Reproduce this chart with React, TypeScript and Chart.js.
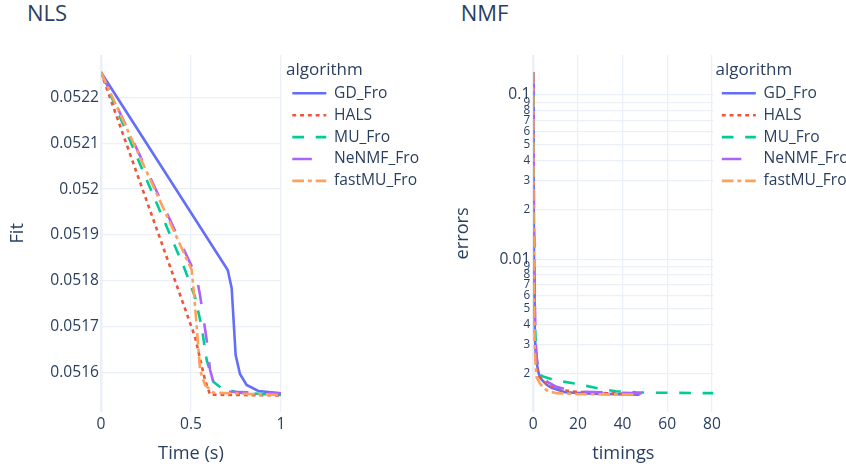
import React, { useEffect, useRef } from "react";
import { Chart, registerables } from "chart.js";

Chart.register(...registerables);

// ---------- series meta ----------
const algorithms = ["GD_Fro", "HALS", "MU_Fro", "NeNMF_Fro", "fastMU_Fro"];
const colors = ["#636efa", "#EF553B", "#00cc96", "#ab63fa", "#FFA15A"];
const dashes: number[][] = [[], [3.9, 3.9], [11.7, 11.7], [19.5, 19.5], [11.7, 3.9, 3.9, 3.9]];

// ---------- NLS (Time (s) vs Fit) ----------
const nlsTimeGD = [0, 0.704, 0.726, 0.748, 0.772, 0.809, 0.874, 1.0];
const nlsFitGD = [0.0522545, 0.0518237, 0.0517839, 0.0516386, 0.0515972, 0.0515732, 0.0515601, 0.0515551];
const nlsTimeHALS = [0, 0.522, 0.578, 0.606, 1.0];
const nlsFitHALS = [0.0522545, 0.0516784, 0.0515841, 0.051552, 0.0515505];
const nlsTimeMU = [0, 0.467, 0.522, 0.559, 0.587, 0.624, 0.671, 0.763, 1.0];
const nlsFitMU = [0.0522545, 0.0518237, 0.0517656, 0.0517002, 0.0516277, 0.0515804, 0.051566, 0.0515564, 0.0515514];
const nlsTimeNeNMF = [0, 0.531, 0.55, 0.568, 0.587, 0.606, 0.624, 0.698, 1.0];
const nlsFitNeNMF = [0.0522545, 0.0518092, 0.0517693, 0.051722, 0.0516712, 0.0516059, 0.0515804, 0.0515586, 0.0515551];
const nlsTimeFastMU = [0, 0.504, 0.518, 0.532, 0.55, 0.578, 0.624, 1.0];
const nlsFitFastMU = [0.0522545, 0.0518237, 0.0517656, 0.0517002, 0.0516059, 0.0515732, 0.0515564, 0.0515514];

const nlsXTicks = [0, 0.5, 1];
const nlsYTicks = [0.0516, 0.0517, 0.0518, 0.0519, 0.052, 0.0521, 0.0522];

// ---------- NMF (timings vs errors, log) ----------
const nmfTimeGD = [0, 0.15, 0.35, 0.6, 1.0, 1.6, 2.5, 3.75, 6, 8.2, 14.2, 26, 47.6];
const nmfErrGD = [0.138, 0.03, 0.008, 0.004, 0.0028, 0.0023, 0.002, 0.00185, 0.00172, 0.00165, 0.00155, 0.00152, 0.0015];
const nmfTimeHALS = [0, 0.12, 0.3, 0.55, 0.9, 1.5, 2.5, 4, 8, 14.2, 17.1, 25, 46];
const nmfErrHALS = [0.138, 0.025, 0.008, 0.0038, 0.0027, 0.0022, 0.00195, 0.00182, 0.00168, 0.00159, 0.00157, 0.00154, 0.00151];
const nmfTimeMU = [0, 0.15, 0.4, 0.7, 1.1, 1.6, 2.2, 4, 10, 18.6, 27.8, 37, 46, 55, 80.7];
const nmfErrMU = [0.138, 0.035, 0.009, 0.0042, 0.0029, 0.0023, 0.00207, 0.00194, 0.00183, 0.00175, 0.00165, 0.00157, 0.00155, 0.00154, 0.00153];
const nmfTimeNeNMF = [0, 0.2, 0.45, 0.8, 1.1, 1.6, 2.5, 4, 6.7, 10, 15, 22, 35, 55.2];
const nmfErrNeNMF = [0.138, 0.035, 0.01, 0.0045, 0.0031, 0.0025, 0.00207, 0.0019, 0.00178, 0.00168, 0.00161, 0.00156, 0.00154, 0.00152];
const nmfTimeFastMU = [0, 0.1, 0.3, 0.6, 1.0, 1.5, 3, 4.5, 6.7, 10.4, 20, 45.4];
const nmfErrFastMU = [0.138, 0.02, 0.006, 0.003, 0.0023, 0.0019, 0.00175, 0.00165, 0.00157, 0.00153, 0.00151, 0.0015];

const nmfXTicks = [0, 20, 40, 60, 80];
const nmfYTicks = [
  0.1, 0.09, 0.08, 0.07, 0.06, 0.05, 0.04, 0.03, 0.02,
  0.01, 0.009, 0.008, 0.007, 0.006, 0.005, 0.004, 0.003, 0.002,
];

// ---------- styling ----------
const FONT = "'Open Sans', 'Noto Sans', sans-serif";
const TXT = "#2a3f5f";
const GRID = "#EBF0F8";
const LINE_W = 2.6;

const zip = (xs: number[], ys: number[]) => xs.map((x, i) => ({ x, y: ys[i] }));

function makeDatasets(series: [number[], number[]][]) {
  return series.map(([xs, ys], i) => ({
    label: algorithms[i],
    data: zip(xs, ys),
    borderColor: colors[i],
    backgroundColor: colors[i],
    borderWidth: LINE_W,
    borderDash: dashes[i],
    pointRadius: 0,
    pointHoverRadius: 0,
    tension: 0,
    fill: false,
    order: algorithms.length - 1 - i,
    xAxisID: "x",
    yAxisID: "y",
  }));
}

const isPow10 = (v: number) => Math.abs(Math.log10(v) - Math.round(Math.log10(v))) < 1e-6;

function legendLabels(chart: any) {
  const base = (Chart as any).defaults.plugins.legend.labels.generateLabels(chart);
  return base.map((item: any) => {
    const i = item.datasetIndex;
    return {
      ...item,
      lineDash: dashes[i],
      lineDashOffset: 0,
      lineWidth: LINE_W,
      lineCap: "butt",
      strokeStyle: colors[i],
      fillStyle: colors[i],
      pointStyle: "line",
    };
  });
}

function makeOptions(cfg: {
  xMin: number; xMax: number; xTicks: number[]; xTitle: string;
  yType: "linear" | "logarithmic"; yMin: number; yMax: number; yTicks: number[]; yTitle: string;
  yWidth: number; yTitlePad: number; yTickPad: number; legendWidth: number; gapWidth: number;
  yLabel: (v: number) => string; yFont: (v: number) => number;
}) {
  return {
    animation: false,
    responsive: false,
    events: [],
    layout: { padding: { top: 55, left: 0, right: 0, bottom: 0 } },
    plugins: {
      tooltip: { enabled: false },
      title: { display: false },
      legend: {
        display: true,
        position: "right",
        align: "start",
        fullSize: false,
        maxWidth: cfg.legendWidth,
        title: {
          display: true,
          text: "algorithm",
          position: "start",
          color: TXT,
          font: { family: FONT, size: 17, lineHeight: 1 },
          padding: { top: 6.5, bottom: 0.7 },
        },
        labels: {
          usePointStyle: true,
          pointStyle: "line",
          pointStyleWidth: 34,
          boxHeight: 15.6,
          padding: 6.3,
          color: TXT,
          font: { family: FONT, size: 15.6 },
          generateLabels: legendLabels,
          sort: (a: any, b: any) => a.datasetIndex - b.datasetIndex,
        },
      },
    },
    scales: {
      x: {
        type: "linear",
        position: "bottom",
        min: cfg.xMin,
        max: cfg.xMax,
        afterBuildTicks: (s: any) => { s.ticks = cfg.xTicks.map((v) => ({ value: v })); },
        afterFit: (s: any) => { s.height = 57.3; },
        grid: {
          color: GRID,
          lineWidth: (c: any) => (c.tick && c.tick.value === 0 ? 2.6 : 1.3),
          drawTicks: false,
        },
        border: { display: false },
        ticks: {
          autoSkip: false,
          maxRotation: 0,
          padding: 3.2,
          color: TXT,
          font: { family: FONT, size: 15.6 },
          callback: (v: any) => String(Number(v)),
        },
        title: {
          display: true,
          text: cfg.xTitle,
          color: TXT,
          font: { family: FONT, size: 18.2 },
          padding: { top: 0, bottom: 4.5 },
        },
      },
      y: {
        type: cfg.yType,
        position: "left",
        min: cfg.yMin,
        max: cfg.yMax,
        afterBuildTicks: (s: any) => { s.ticks = cfg.yTicks.map((v) => ({ value: v })); },
        afterFit: (s: any) => { s.width = cfg.yWidth; },
        grid: { color: GRID, lineWidth: 1.3, drawTicks: false },
        border: { display: false },
        ticks: {
          autoSkip: false,
          padding: cfg.yTickPad,
          color: TXT,
          font: (c: any) => ({ family: FONT, size: cfg.yFont(c.tick ? c.tick.value : 1) }),
          callback: (v: any) => cfg.yLabel(Number(v)),
        },
        title: {
          display: true,
          text: cfg.yTitle,
          color: TXT,
          font: { family: FONT, size: 18.2 },
          padding: { top: cfg.yTitlePad, bottom: 0 },
        },
      },
      gap: {
        type: "linear",
        position: "right",
        display: true,
        grid: { display: false, drawTicks: false },
        border: { display: false },
        ticks: { display: false },
        afterFit: (s: any) => { s.width = cfg.gapWidth; },
      },
    },
  };
}

function ChartCanvas({ left, width, config }: { left: number; width: number; config: any }) {
  const ref = useRef<HTMLCanvasElement | null>(null);
  useEffect(() => {
    if (!ref.current) return;
    const chart = new Chart(ref.current, config);
    return () => chart.destroy();
  }, []);
  return (
    <canvas
      ref={ref}
      width={width}
      height={469}
      style={{ position: "absolute", left, top: 0, width, height: 469 }}
    />
  );
}

const titleStyle = (left: number): React.CSSProperties => ({
  position: "absolute",
  left,
  top: 1,
  fontFamily: FONT,
  fontSize: 22,
  lineHeight: "22px",
  color: TXT,
  margin: 0,
  whiteSpace: "nowrap",
});

export default function App() {
  const nlsConfig = {
    type: "line",
    data: {
      datasets: makeDatasets([
        [nlsTimeGD, nlsFitGD],
        [nlsTimeHALS, nlsFitHALS],
        [nlsTimeMU, nlsFitMU],
        [nlsTimeNeNMF, nlsFitNeNMF],
        [nlsTimeFastMU, nlsFitFastMU],
      ]),
    },
    options: makeOptions({
      xMin: 0, xMax: 1, xTicks: nlsXTicks, xTitle: "Time (s)",
      yType: "linear", yMin: 0.051515, yMax: 0.0522922, yTicks: nlsYTicks, yTitle: "Fit",
      yWidth: 101, yTitlePad: 7.4, yTickPad: 2, legendWidth: 134, gapWidth: 5,
      yLabel: (v) => String(parseFloat(v.toFixed(4))),
      yFont: () => 15.6,
    }),
  };

  const nmfConfig = {
    type: "line",
    data: {
      datasets: makeDatasets([
        [nmfTimeGD, nmfErrGD],
        [nmfTimeHALS, nmfErrHALS],
        [nmfTimeMU, nmfErrMU],
        [nmfTimeNeNMF, nmfErrNeNMF],
        [nmfTimeFastMU, nmfErrFastMU],
      ]),
    },
    options: makeOptions({
      xMin: 0, xMax: 80.7, xTicks: nmfXTicks, xTitle: "timings",
      yType: "logarithmic", yMin: 0.00118, yMax: 0.175, yTicks: nmfYTicks, yTitle: "errors",
      yWidth: 113.3, yTitlePad: 31.6, yTickPad: 3, legendWidth: 130.5, gapWidth: 2,
      yLabel: (v) => {
        if (isPow10(v)) return String(parseFloat(v.toPrecision(3)));
        const p = Math.pow(10, Math.floor(Math.log10(v) + 1e-9));
        return String(Math.round(v / p));
      },
      yFont: (v) => (isPow10(v) ? 15.6 : 11.7),
    }),
  };

  return (
    <div style={{ position: "fixed", left: 0, top: 0, width: 846, height: 469, background: "#fff", overflow: "hidden" }}>
      <div style={titleStyle(27)}>NLS</div>
      <div style={titleStyle(460.7)}>NMF</div>
      <ChartCanvas left={0} width={420} config={nlsConfig} />
      <ChartCanvas left={420} width={426} config={nmfConfig} />
    </div>
  );
}
